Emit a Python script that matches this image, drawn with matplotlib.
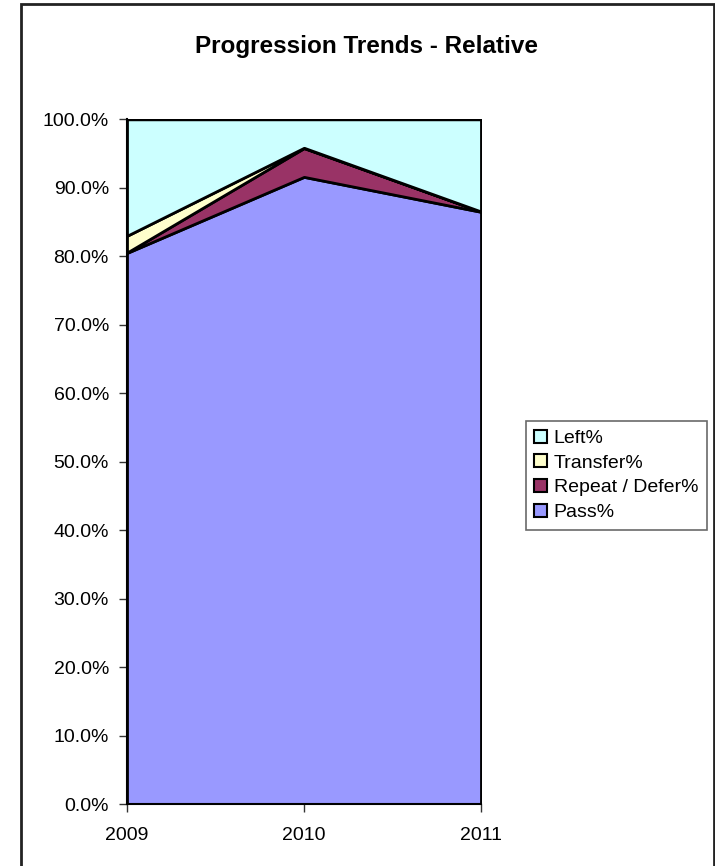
import matplotlib
matplotlib.use("Agg")
import matplotlib.pyplot as plt
from matplotlib.patches import Rectangle
from matplotlib.ticker import FuncFormatter

plt.rcParams['font.family'] = ['Liberation Sans', 'DejaVu Sans']

years = ["2009", "2010", "2011"]
pass_pct = [80.5, 91.6, 86.5]
repeat_pct = [0.05, 4.2, 0.05]
transfer_pct = [2.45, 0.05, 0.0]
left_pct = [100 - p - r - t for p, r, t in zip(pass_pct, repeat_pct, transfer_pct)]

series_names = ["Pass%", "Repeat / Defer%", "Transfer%", "Left%"]
series_colors = ["#9999FF", "#993366", "#FFFFCC", "#CCFFFF"]

fig = plt.figure(figsize=(7.15, 8.66), dpi=100)
ax = fig.add_axes([0.1776, 0.0712, 0.6727 - 0.1776, 0.8622 - 0.0712])

x = list(range(len(years)))
polys = ax.stackplot(x, pass_pct, repeat_pct, transfer_pct, left_pct,
                     colors=series_colors, edgecolor="black", linewidth=2,
                     labels=series_names)

ax.set_xlim(0, len(years) - 1)
ax.set_ylim(0, 100)
ax.set_xticks(x)
ax.set_xticklabels(years)
ax.set_yticks(range(0, 101, 10))
ax.yaxis.set_major_formatter(FuncFormatter(lambda v, _: f"{v:.1f}%"))
ax.tick_params(axis="both", labelsize=14, length=6, width=1, color="#333333",
               direction="out")
ax.tick_params(axis="y", pad=7)
ax.tick_params(axis="x", pad=10)
for side in ["top", "right"]:
    ax.spines[side].set_visible(False)
for side in ["left", "bottom"]:
    ax.spines[side].set_color("black")
    ax.spines[side].set_linewidth(1.5)

fig.text(0.513, 0.946, "Progression Trends - Relative", ha="center", va="center",
         fontsize=17.5, fontweight="bold")

handles, labels = ax.get_legend_handles_labels()
leg = fig.legend(handles[::-1], labels[::-1], loc="upper left",
                 bbox_to_anchor=(525.5 / 715, 1 - 421 / 866), fontsize=14,
                 frameon=True, fancybox=False, edgecolor="#444444",
                 handlelength=0.65, handleheight=0.65, handletextpad=0.35,
                 labelspacing=0.38, borderpad=0.45, borderaxespad=0)
leg.get_frame().set_linewidth(1.2)
for h in leg.legend_handles:
    h.set_linewidth(1.5)
    h.set_edgecolor("black")

# outer chart frame
fig.patches.append(Rectangle((21 / 715, -0.05), (714 - 21) / 715, 1.05 - 4 / 866,
                             transform=fig.transFigure, fill=False,
                             edgecolor="#222222", linewidth=2))

fig.savefig("out.png", dpi=100)
